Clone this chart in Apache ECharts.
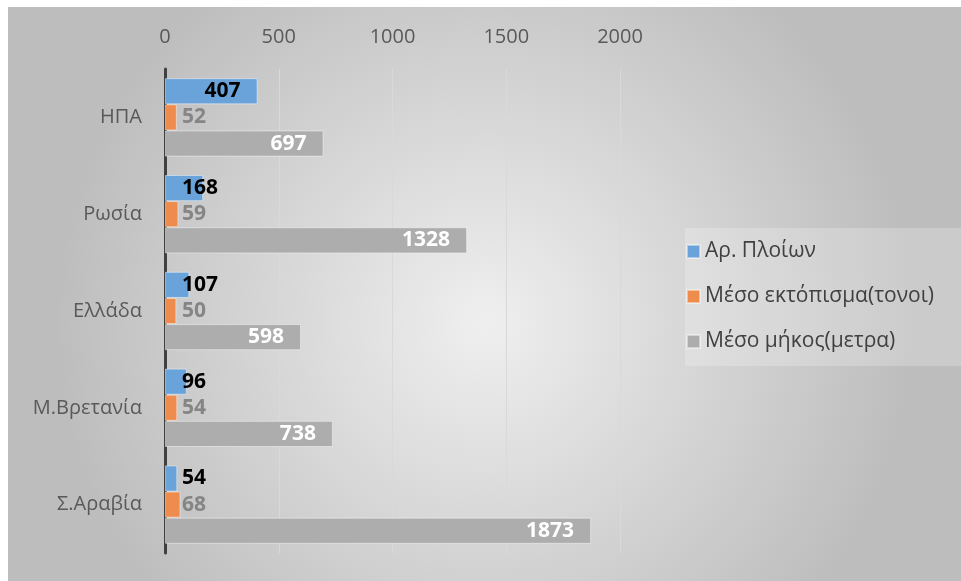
<!DOCTYPE html>
<html>
<head>
<meta charset="utf-8">
<script src="https://cdn.jsdelivr.net/npm/echarts@6/dist/echarts.min.js"></script>
<style>
  html, body { margin: 0; padding: 0; background: #ffffff; }
  #chart { position: absolute; left: 8px; top: 7px; width: 953px; height: 574px; }
</style>
</head>
<body>
<div id="chart"></div>
<script>
// Categories (countries) and the three measured series
const countries = ['ΗΠΑ', 'Ρωσία', 'Ελλάδα', 'Μ.Βρετανία', 'Σ.Αραβία'];
const shipCount = [407, 168, 107, 96, 54];
const avgDisplacement = [52, 59, 50, 54, 68];
const avgLength = [697, 1328, 598, 738, 1873];
const seriesNames = ['Αρ. Πλοίων', 'Μέσο εκτόπισμα(τονοι)', 'Μέσο μήκος(μετρα)'];
const axisTicks = [0, 500, 1000, 1500, 2000];

const FONT = '"Open Sans", sans-serif';
const LABEL_SIZE = 21;
const GRID = { left: 157, top: 62, right: 341, bottom: 28 };
const AXIS_MAX = axisTicks[axisTicks.length - 1];
const INSET = 17;

const chart = echarts.init(document.getElementById('chart'));
const plotWidth = 953 - GRID.left - GRID.right;

// measure label text so short bars get their value drawn beside the axis
const ctx = document.createElement('canvas').getContext('2d');
ctx.font = 'bold ' + LABEL_SIZE + 'px ' + FONT;
function labelFor(v) {
  const barPx = v / AXIS_MAX * plotWidth;
  const textPx = ctx.measureText(String(v)).width;
  if (barPx >= textPx + 2 * INSET) {
    return { position: 'insideRight', distance: INSET };
  }
  return { position: [INSET, '50%'], align: 'left', verticalAlign: 'middle' };
}
function items(values) {
  return values.map(v => ({ value: v, label: labelFor(v) }));
}

const barStyle = c => ({ color: c, borderColor: 'rgba(255,255,255,0.45)', borderWidth: 1 });
const labelBase = c => ({ show: true, color: c, fontFamily: FONT, fontSize: LABEL_SIZE, fontWeight: 'bold' });

chart.setOption({
  backgroundColor: {
    type: 'radial', x: 0.5, y: 0.55, r: 0.75,
    colorStops: [
      { offset: 0, color: '#efefef' },
      { offset: 1, color: '#bdbdbd' }
    ]
  },
  textStyle: { fontFamily: FONT },
  grid: GRID,
  legend: {
    orient: 'vertical',
    left: 677, top: 221,
    padding: [13, 30, 14, 1],
    backgroundColor: 'rgba(255,255,255,0.22)',
    itemWidth: 13, itemHeight: 13, itemGap: 24,
    icon: 'rect',
    textStyle: { color: '#404040', fontSize: 21, fontFamily: FONT },
    data: seriesNames
  },
  xAxis: {
    type: 'value', position: 'top',
    min: axisTicks[0], max: AXIS_MAX, interval: 500,
    axisLine: { show: false }, axisTick: { show: false },
    axisLabel: { color: '#595959', fontSize: 20, margin: 22, fontFamily: FONT, formatter: v => String(v) },
    splitLine: { show: true, lineStyle: { color: '#d9d9d9', width: 1 } }
  },
  yAxis: {
    type: 'category', inverse: true, data: countries,
    axisLine: { show: true, lineStyle: { color: '#404040', width: 3 } },
    axisTick: { show: false },
    axisLabel: { color: '#595959', fontSize: 20, margin: 23, fontFamily: FONT }
  },
  series: [
    {
      name: seriesNames[0], type: 'bar', barGap: '0%', barCategoryGap: '19%',
      itemStyle: barStyle('#6aa3da'),
      label: labelBase('#000000'),
      data: items(shipCount)
    },
    {
      name: seriesNames[1], type: 'bar',
      itemStyle: barStyle('#ee8c4e'),
      label: labelBase('#858585'),
      data: items(avgDisplacement)
    },
    {
      name: seriesNames[2], type: 'bar',
      itemStyle: barStyle('#adadad'),
      label: labelBase('#ffffff'),
      data: items(avgLength)
    }
  ]
});
</script>
</body>
</html>
